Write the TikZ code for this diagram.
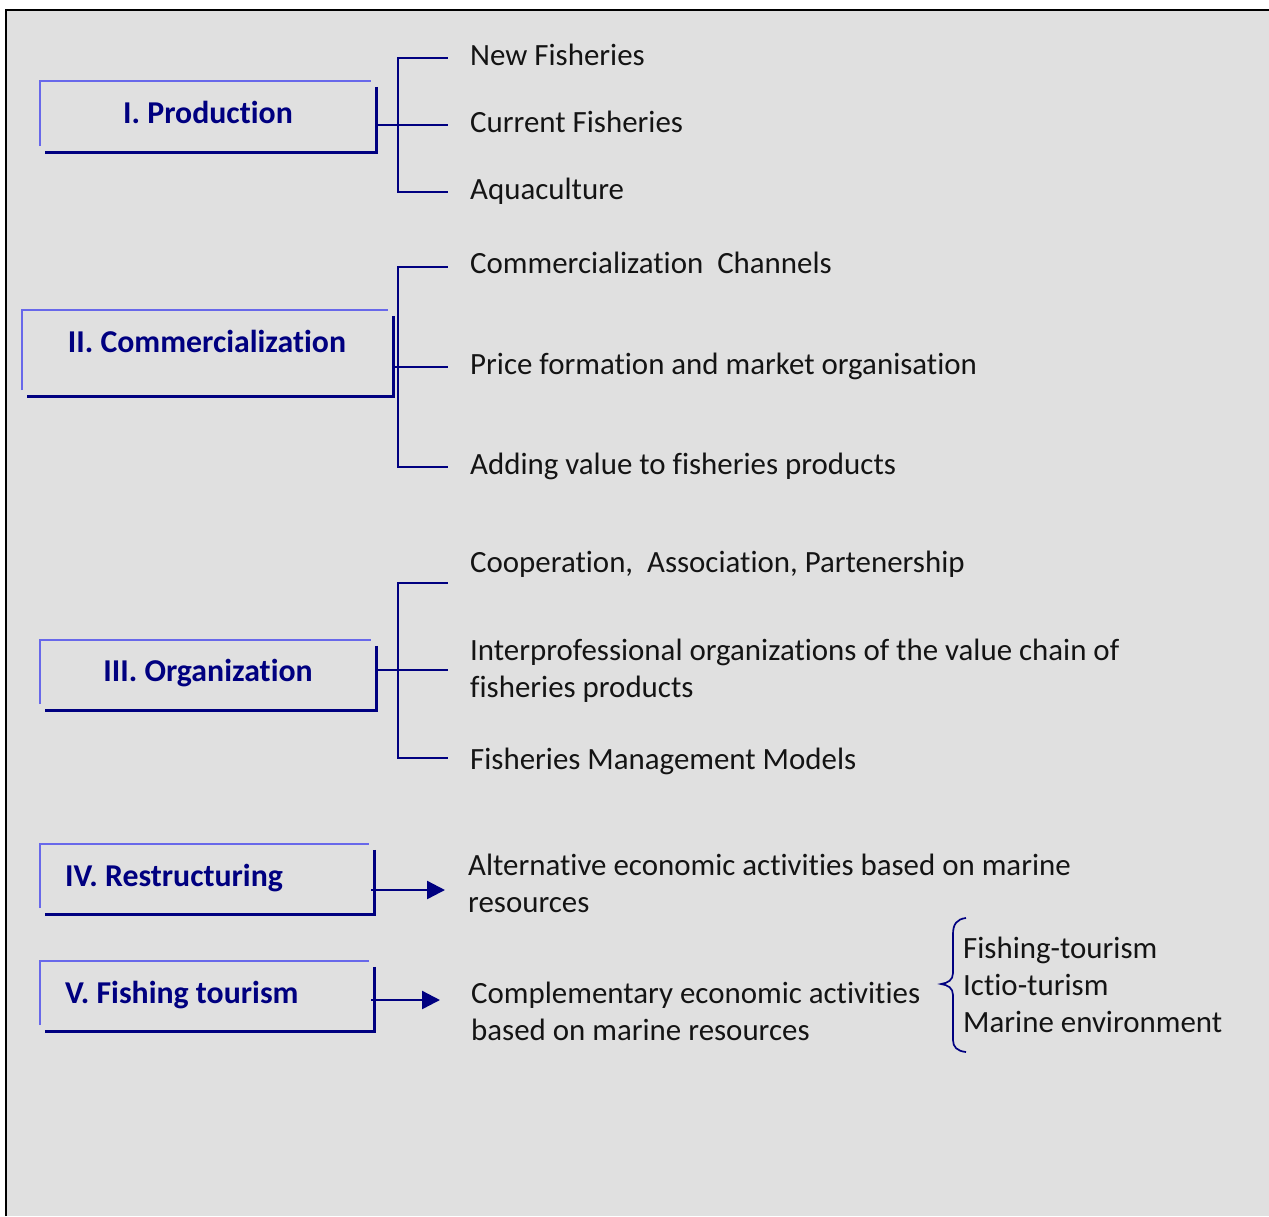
\documentclass[tikz,border=0pt]{standalone}
\usepackage{fontspec}
\setmainfont{Carlito}[Ligatures=NoCommon]
\usetikzlibrary{arrows.meta}
\definecolor{bgc}{RGB}{224,224,224}
\definecolor{lightb}{RGB}{104,104,234}
\definecolor{darkb}{RGB}{0,0,128}
\definecolor{txt}{RGB}{20,20,20}
\tikzset{
  frame/.style={draw=none,inner sep=0pt,minimum width=#1},
  ttl/.style={inner sep=0pt,text=darkb,font=\fontsize{31.8}{36}\selectfont\bfseries},
  item/.style={inner sep=0pt,anchor=base west,text=txt,font=\fontsize{30.9}{37}\selectfont},
  brk/.style={draw=darkb,line width=1.7pt},
  lite/.style={draw=lightb,line width=2.6pt},
  dark/.style={draw=darkb,line width=#1},
  arr/.style={draw=darkb,line width=2.4pt,-{Triangle[length=18pt,width=18pt]}}
}
\begin{document}
\begin{tikzpicture}[x=1pt,y=-1pt]
\useasboundingbox (0,0) rectangle (1269,1216);
\fill[bgc] (5,9) rectangle (1269,1216);
\draw[line width=2.6pt,black] (5.8,1216) -- (5.8,9.8) -- (1269,9.8);

% ---------- boxes ----------
\node[frame=336pt,minimum height=71pt] (b1) at (208,116.5) {};
\node[frame=371pt,minimum height=86pt] (b2) at (207.5,353) {};
\node[frame=336pt,minimum height=70pt] (b3) at (208,675) {};
\node[frame=334pt,minimum height=70pt] (b4) at (207,879) {};
\node[frame=334pt,minimum height=70pt] (b5) at (207,996) {};

\foreach \b/\w in {b1/3.4pt,b2/3.4pt,b3/3pt,b4/2.6pt,b5/2.6pt}{
  \draw[lite] ([yshift=6pt]\b.south west) -- (\b.north west) -- ([xshift=-5pt]\b.north east);
  \draw[dark=\w] ([yshift=-6pt]\b.north east) -- (\b.south east) -- ([xshift=5pt]\b.south west);
}

\node[ttl,anchor=base] (l1) at (208,123) {I. Production};
\node[ttl,anchor=base] (l2) at (207,352) {II. Commercialization};
\node[ttl,anchor=base] (l3) at (208,681) {III. Organization};
\node[ttl,anchor=base west] (l4) at (65,886) {IV. Restructuring};
\node[ttl,anchor=base west] (l5) at (65,1003) {V. Fishing tourism};

% ---------- items ----------
\node[item] (n11) at (470,65) {New Fisheries};
\node[item] (n12) at (470,132) {Current Fisheries};
\node[item] (n13) at (470,199) {Aquaculture};

\node[item] (n21) at (470,273) {Commercialization\ \ Channels};
\node[item] (n22) at (470,374) {Price formation and market organisation};
\node[item] (n23) at (470,474) {Adding value to fisheries products};

\node[item] (n31) at (470,572) {Cooperation,\ \ Association, Partenership};
\node[item] (n32) at (470,660) {Interprofessional organizations of the value chain of};
\node[item] (n32b) at (470,697) {fisheries products};
\node[item] (n33) at (470,769) {Fisheries Management Models};

\node[item] (n4) at (468,875) {Alternative economic activities based on marine};
\node[item] (n4b) at (468,912) {resources};

\node[item] (n5) at (471,1003) {Complementary economic activities};
\node[item] (n5b) at (471,1040) {based on marine resources};

\node[item] (f1) at (963,958) {Fishing-tourism};
\node[item] (f2) at (963,995) {Ictio-turism};
\node[item] (f3) at (963,1032) {Marine environment};

% ---------- brackets ----------
\coordinate (k1) at (398,125);
\coordinate (e11) at (448,58);
\coordinate (e12) at (448,125);
\coordinate (e13) at (448,192);
\draw[brk] (b1.east |- k1) -- (k1);
\draw[brk] (k1) |- (e11);
\draw[brk] (k1) |- (e13);
\draw[brk] (k1) -- (e12);

\coordinate (k2) at (398,367);
\coordinate (e21) at (448,267);
\coordinate (e22) at (448,367);
\coordinate (e23) at (448,467);
\draw[brk] (b2.east |- k2) -- (k2);
\draw[brk] (k2) |- (e21);
\draw[brk] (k2) |- (e23);
\draw[brk] (k2) -- (e22);

\coordinate (k3) at (398,670);
\coordinate (e31) at (448,583);
\coordinate (e32) at (448,670);
\coordinate (e33) at (448,758);
\draw[brk] (b3.east |- k3) -- (k3);
\draw[brk] (k3) |- (e31);
\draw[brk] (k3) |- (e33);
\draw[brk] (k3) -- (e32);

% ---------- arrows ----------
\coordinate (a4) at (445,890);
\coordinate (a5) at (440,1000);
\draw[arr] ([xshift=-3pt]b4.east |- a4) -- (a4);
\draw[arr] ([xshift=-3pt]b5.east |- a5) -- (a5);

% ---------- brace ----------
\draw[brk] (966,918) .. controls (957,919) and (953,924) .. (953,934)
  -- (953,973) .. controls (953,980) and (948,983) .. (941,984)
  .. controls (948,985) and (953,988) .. (953,995)
  -- (953,1040) .. controls (953,1047) and (957,1051) .. (966,1052);
\end{tikzpicture}
\end{document}
